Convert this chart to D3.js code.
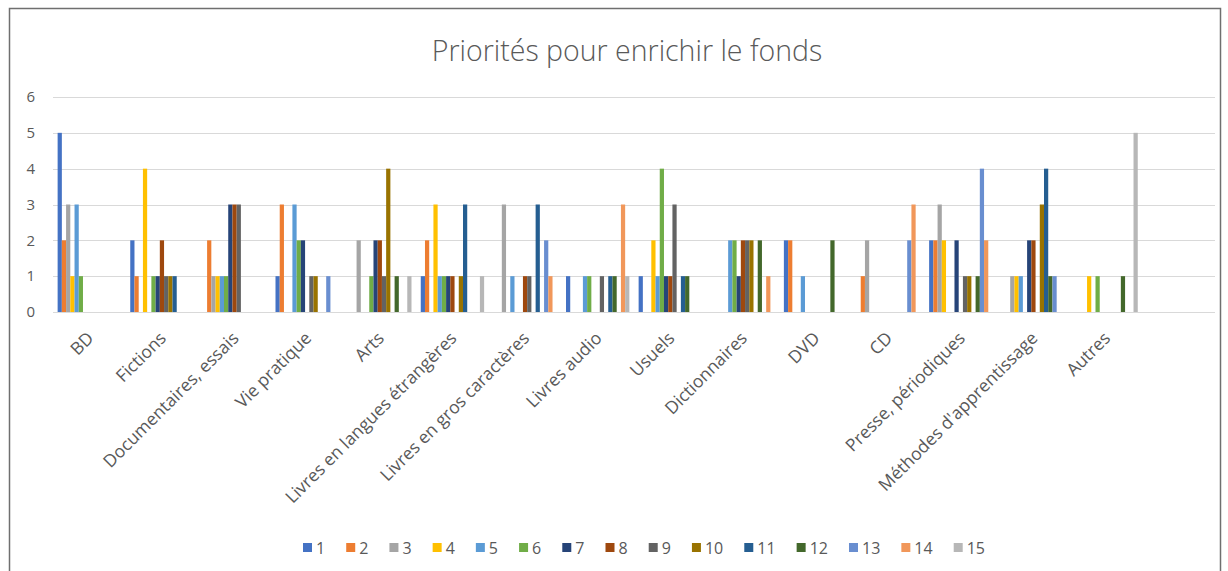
<!DOCTYPE html>
<html>
<head>
<meta charset="utf-8">
<script src="https://cdn.jsdelivr.net/npm/d3@7"></script>
<style>
  body { margin: 0; background: #fff; }
  text { font-family: "Open Sans", "Noto Sans", sans-serif; fill: #595959; }
</style>
</head>
<body>
<div id="chart"></div>
<script>
'use strict'

// catégories (la dernière est vide, comme dans le classeur d'origine)
const categories = ["BD", "Fictions", "Documentaires, essais", "Vie pratique", "Arts",
    "Livres en langues étrangères", "Livres en gros caractères", "Livres audio", "Usuels",
    "Dictionnaires", "DVD", "CD", "Presse, périodiques", "Méthodes d'apprentissage", "Autres", ""];

const seriesNames = ["1", "2", "3", "4", "5", "6", "7", "8", "9", "10", "11", "12", "13", "14", "15"];

const colors = ["#4472C4", "#ED7D31", "#A5A5A5", "#FFC000", "#5B9BD5", "#70AD47", "#264478",
    "#9E480E", "#636363", "#997300", "#255E91", "#43682B", "#698ED0", "#F1975A", "#B7B7B7"];

const yTicks = [0, 1, 2, 3, 4, 5, 6];

// une ligne par catégorie, une valeur par priorité 1..15
const bd            = [5, 2, 3, 1, 3, 1, 0, 0, 0, 0, 0, 0, 0, 0, 0];
const fictions      = [2, 1, 0, 4, 0, 1, 1, 2, 1, 1, 1, 0, 0, 0, 0];
const documentaires = [0, 2, 1, 1, 1, 1, 3, 3, 3, 0, 0, 0, 0, 0, 0];
const viePratique   = [1, 3, 0, 0, 3, 2, 2, 0, 1, 1, 0, 0, 1, 0, 0];
const arts          = [0, 0, 2, 0, 0, 1, 2, 2, 1, 4, 0, 1, 0, 0, 1];
const langues       = [1, 2, 0, 3, 1, 1, 1, 1, 0, 1, 3, 0, 0, 0, 1];
const grosCaract    = [0, 0, 3, 0, 1, 0, 0, 1, 1, 0, 3, 0, 2, 1, 0];
const livresAudio   = [1, 0, 0, 0, 1, 1, 0, 0, 1, 0, 1, 1, 0, 3, 1];
const usuels        = [1, 0, 0, 2, 1, 4, 1, 1, 3, 0, 1, 1, 0, 0, 0];
const dictionnaires = [0, 0, 0, 0, 2, 2, 1, 2, 2, 2, 0, 2, 0, 1, 0];
const dvd           = [2, 2, 0, 0, 1, 0, 0, 0, 0, 0, 0, 2, 0, 0, 0];
const cd            = [0, 1, 2, 0, 0, 0, 0, 0, 0, 0, 0, 0, 2, 3, 0];
const presse        = [2, 2, 3, 2, 0, 0, 2, 0, 1, 1, 0, 1, 4, 2, 0];
const methodes      = [0, 0, 1, 1, 1, 0, 2, 2, 0, 3, 4, 1, 1, 0, 0];
const autres        = [0, 0, 0, 1, 0, 1, 0, 0, 0, 0, 0, 1, 0, 0, 5];

const rows = [bd, fictions, documentaires, viePratique, arts, langues, grosCaract, livresAudio,
    usuels, dictionnaires, dvd, cd, presse, methodes, autres];

let W = 1228, H = 571,
    margin = { top: 97, right: 13, bottom: 259, left: 53 },
    width = W - margin.left - margin.right,
    height = H - margin.top - margin.bottom;

let svg = d3.select("#chart").append("svg")
    .attr("width", W)
    .attr("height", H);

// cadre du graphique
svg.append("rect")
    .attr("x", 9.5).attr("y", 8.5)
    .attr("width", 1211).attr("height", 590)
    .attr("fill", "none")
    .attr("stroke", "#6f6f6f")
    .attr("stroke-width", 1.5);

svg.append("text")
    .attr("x", 627).attr("y", 61)
    .attr("text-anchor", "middle")
    .style("font-size", "28.5px")
    .style("font-weight", 300)
    .text("Priorités pour enrichir le fonds");

let x0 = d3.scaleBand().domain(d3.range(categories.length)).range([0, width]),
    x1 = d3.scaleBand().domain(d3.range(seriesNames.length))
        .range([0, x0.bandwidth()]).paddingInner(0).paddingOuter(1.095),
    y = d3.scaleLinear().domain([0, 6]).range([height, 0]);

let g = svg.append("g")
    .attr("transform", "translate(" + margin.left + "," + margin.top + ")");

// grille
g.append("g")
    .selectAll("line")
    .data(yTicks)
    .enter().append("line")
    .attr("x1", 0).attr("x2", width)
    .attr("y1", d => Math.round(y(d)) + 0.5)
    .attr("y2", d => Math.round(y(d)) + 0.5)
    .attr("stroke", "#d9d9d9")
    .attr("stroke-width", 1);

g.append("g")
    .selectAll("text")
    .data(yTicks)
    .enter().append("text")
    .attr("x", -18)
    .attr("y", d => y(d))
    .attr("dy", "0.35em")
    .attr("text-anchor", "end")
    .style("font-size", "15px")
    .text(d => d);

// barres
let groups = g.selectAll(".grp")
    .data(rows)
    .enter().append("g")
    .attr("class", "grp")
    .attr("transform", (d, i) => "translate(" + x0(i) + ",0)");

groups.selectAll("rect")
    .data(d => d.map((v, k) => ({ k: k, v: v })).filter(e => e.v > 0))
    .enter().append("rect")
    .attr("x", d => x1(d.k))
    .attr("width", x1.bandwidth())
    .attr("y", d => y(d.v))
    .attr("height", d => y(0) - y(d.v))
    .attr("fill", d => colors[d.k]);

// étiquettes de catégories, inclinées à 45°
g.append("g")
    .selectAll("text")
    .data(categories)
    .enter().append("text")
    .attr("transform", (d, i) => "translate(" + (x0(i) + x0.bandwidth() / 2 + 1) + "," + (height + 23) + ") rotate(-45)")
    .attr("text-anchor", "end")
    .attr("dy", "0.35em")
    .style("font-size", "17.5px")
    .text(d => d);

// légende
let legend = svg.append("g");
let items = [];
seriesNames.forEach(function(name, i) {
    let item = legend.append("g");
    item.append("rect")
        .attr("x", 0).attr("y", -5)
        .attr("width", 9).attr("height", 9)
        .attr("fill", colors[i]);
    let t = item.append("text")
        .attr("x", 13).attr("y", 0)
        .attr("dy", "0.35em")
        .style("font-size", "16px")
        .text(name);
    items.push({ node: item, w: 13 + t.node().getComputedTextLength() });
});
let legendLeft = 303, legendRight = 985;
let gap = (legendRight - legendLeft - d3.sum(items, d => d.w)) / (items.length - 1);
let lx = 0;
items.forEach(function(it) {
    it.node.attr("transform", "translate(" + lx + ",0)");
    lx += it.w + gap;
});
legend.attr("transform", "translate(" + legendLeft + ",548)");
</script>
</body>
</html>
